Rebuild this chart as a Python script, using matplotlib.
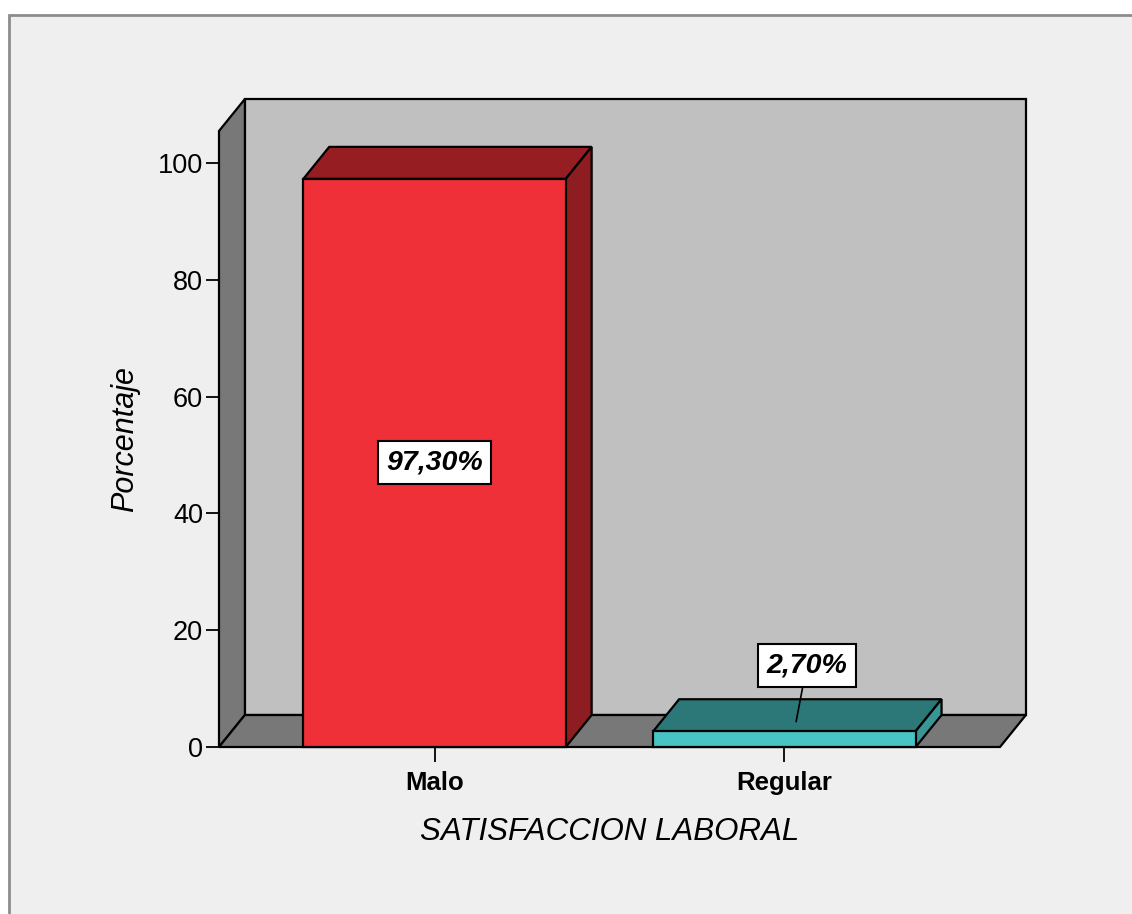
import matplotlib
matplotlib.use("Agg")
import matplotlib.pyplot as plt
from matplotlib.patches import Polygon, Rectangle

plt.rcParams['font.family'] = ['Liberation Sans', 'DejaVu Sans']

# Datos
categorias = ["Malo", "Regular"]
porcentajes = [97.30, 2.70]
etiquetas = ["97,30%", "2,70%"]
ticks_y = [0, 20, 40, 60, 80, 100]

# Colores (frente, tapa, lateral)
colores = [("#f03039", "#961e23", "#8e1d21"),
           ("#48c4c4", "#2c7878", "#3a9696")]

# Geometria del grafico 3D
ancho = 0.75
x0, x1 = -0.616, 1.616
y_max = 105.5
DX, DY = 0.074, 5.48   # profundidad en unidades de datos

fig = plt.figure(figsize=(11.32, 9.14), dpi=100)
fig.patch.set_facecolor("white")

# marco exterior
fig.add_artist(Rectangle((9 / 1132, -0.05), 1.2, (914 - 15) / 914 + 0.05,
                         transform=fig.transFigure, facecolor="#efefef",
                         edgecolor="#8c8c8c", linewidth=2, zorder=0))

ax = fig.add_axes([219 / 1132, (914 - 747) / 914, 781 / 1132, 616 / 914])
ax.set_xlim(x0, x1)
ax.set_ylim(0, y_max)
ax.set_facecolor("none")
for s in ax.spines.values():
    s.set_visible(False)

borde = dict(edgecolor="black", linewidth=1.6, clip_on=False, joinstyle="miter")

# paredes y piso
ax.add_patch(Polygon([(x0 + DX, DY), (x1 + DX, DY), (x1 + DX, y_max + DY), (x0 + DX, y_max + DY)],
                     facecolor="#c0c0c0", zorder=1, **borde))
ax.add_patch(Polygon([(x0, 0), (x0 + DX, DY), (x0 + DX, y_max + DY), (x0, y_max)],
                     facecolor="#787878", zorder=1, **borde))
ax.add_patch(Polygon([(x0, 0), (x1, 0), (x1 + DX, DY), (x0 + DX, DY)],
                     facecolor="#787878", zorder=1, **borde))

# barras
for i, (v, (c_frente, c_tapa, c_lado)) in enumerate(zip(porcentajes, colores)):
    a, b = i - ancho / 2, i + ancho / 2
    ax.add_patch(Polygon([(a, v), (b, v), (b + DX, v + DY), (a + DX, v + DY)],
                         facecolor=c_tapa, zorder=2, **borde))
    ax.add_patch(Polygon([(b, 0), (b + DX, DY), (b + DX, v + DY), (b, v)],
                         facecolor=c_lado, zorder=2, **borde))
    ax.add_patch(Polygon([(a, 0), (b, 0), (b, v), (a, v)],
                         facecolor=c_frente, zorder=3, **borde))

caja = dict(boxstyle="square,pad=0.3", facecolor="white", edgecolor="black", linewidth=1.5)
fuente_valor = dict(fontsize=20.5, fontweight="bold", fontstyle="italic")

ax.text(0, porcentajes[0] / 2, etiquetas[0], ha="center", va="center",
        bbox=caja, zorder=5, **fuente_valor)
ax.annotate(etiquetas[1], xy=(1 + DX * 0.45, porcentajes[1] + DY * 0.3),
            xytext=(1.064, porcentajes[1] + 11.3), ha="center", va="center",
            bbox=caja, zorder=5,
            arrowprops=dict(arrowstyle="-", color="black", lw=1.2, shrinkA=0, shrinkB=0),
            **fuente_valor)

# ejes
ax.set_yticks(ticks_y)
ax.set_yticklabels([str(t) for t in ticks_y])
ax.set_xticks(range(len(categorias)))
ax.set_xticklabels(categorias, fontsize=18.5, fontweight="bold")
ax.tick_params(axis="y", length=9.4, width=1.3, pad=2, labelsize=19.5)
ax.tick_params(axis="x", length=11, width=1.3, pad=6)

ax.set_ylabel("Porcentaje", fontsize=22, fontstyle="italic", labelpad=13)
ax.set_xlabel("SATISFACCION LABORAL", fontsize=22.5, fontstyle="italic", labelpad=16)

fig.savefig("out.png", dpi=100)
